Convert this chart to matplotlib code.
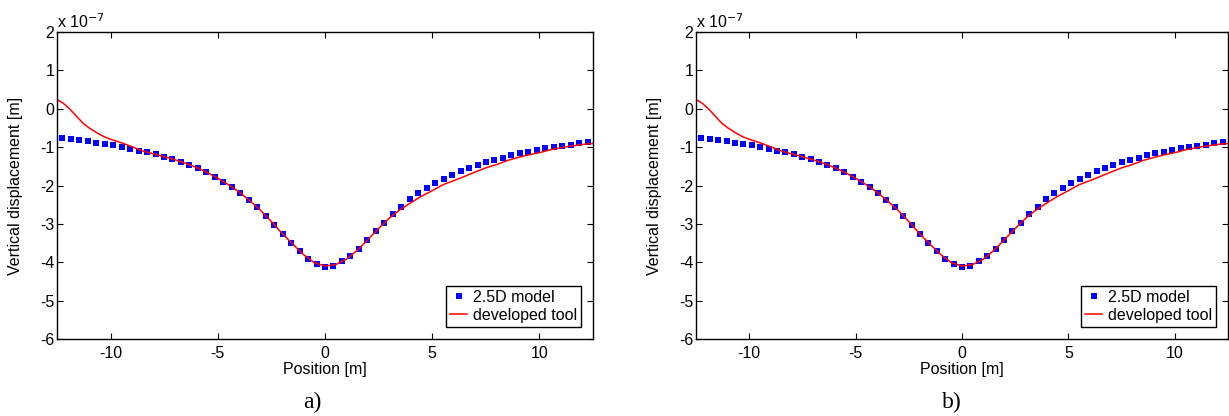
import numpy as np
import matplotlib
matplotlib.use("Agg")
import matplotlib.pyplot as plt

plt.rcParams['font.family'] = ['Liberation Sans', 'DejaVu Sans']
plt.rcParams['font.size'] = 11.5

# 2.5D model, evenly spaced receivers along the surface (values in 1e-7 m)
model_x = np.linspace(-12.25, 12.25, 63)
model_uz = [-0.77, -0.795, -0.82, -0.847, -0.882, -0.917, -0.95, -1.003, -1.047, -1.09,
            -1.14, -1.19, -1.255, -1.315, -1.385, -1.463, -1.55, -1.654, -1.768, -1.898,
            -2.036, -2.193, -2.367, -2.565, -2.792, -3.026, -3.27, -3.495, -3.71, -3.911,
            -4.033, -4.111, -4.085, -3.98, -3.833, -3.643, -3.417, -3.182, -2.966, -2.74,
            -2.549, -2.36, -2.2, -2.06, -1.932, -1.82, -1.715, -1.62, -1.533, -1.455,
            -1.395, -1.325, -1.273, -1.21, -1.16, -1.116, -1.073, -1.03, -1.003, -0.96,
            -0.934, -0.898, -0.873]

# developed tool (values in 1e-7 m)
tool_x = [-12.5, -12.2, -11.9, -11.6, -11.3, -11.0, -10.6, -10.3, -10.0, -9.5,
          -9.0, -8.5, -8.0, -7.5, -7.0, -6.5, -6.0, -5.5, -5.0, -4.5,
          -4.0, -3.5, -3.0, -2.5, -2.0, -1.5, -1.0, -0.5, 0.0, 0.5,
          1.0, 1.5, 2.0, 2.5, 3.0, 3.5, 4.0, 4.5, 5.0, 5.5,
          6.0, 6.5, 7.0, 7.5, 8.0, 8.5, 9.0, 9.5, 10.0, 10.5,
          11.0, 11.5, 12.0, 12.5]
tool_uz = [0.24, 0.14, -0.01, -0.19, -0.37, -0.50, -0.64, -0.73, -0.795, -0.885,
           -0.99, -1.10, -1.175, -1.25, -1.33, -1.42, -1.53, -1.66, -1.81, -1.98,
           -2.17, -2.40, -2.65, -2.94, -3.25, -3.53, -3.80, -4.01, -4.10, -4.06,
           -3.92, -3.69, -3.41, -3.12, -2.85, -2.63, -2.45, -2.28, -2.135, -1.98,
           -1.875, -1.765, -1.65, -1.54, -1.455, -1.35, -1.27, -1.2, -1.145, -1.07,
           -1.015, -0.97, -0.93, -0.905]

x_ticks = [-10, -5, 0, 5, 10]
y_ticks = [-6, -5, -4, -3, -2, -1, 0, 1, 2]
panels = ['a)', 'b)']

W, H = 1229, 416
fig = plt.figure(figsize=(W / 100, H / 100), dpi=100)

# axes boxes in pixels: left, top, right, bottom
boxes = [(57, 32, 593, 339), (696, 32, 1228, 339)]
label_x = [312, 952]

for (l, t, r, b), name, lx in zip(boxes, panels, label_x):
    ax = fig.add_axes([l / W, 1 - b / H, (r - l) / W, (b - t) / H])
    ax.plot(model_x, model_uz, 's', color='#0000ff', markersize=4,
            markeredgewidth=0, label='2.5D model')
    ax.plot(tool_x, tool_uz, '-', color='#ff0000', linewidth=1.1,
            label='developed tool')
    ax.set_xlim(-12.5, 12.5)
    ax.set_ylim(-6, 2)
    ax.set_xticks(x_ticks)
    ax.set_yticks(y_ticks)
    ax.set_xticklabels([str(v) for v in x_ticks])
    ax.set_yticklabels([str(v) for v in y_ticks])
    ax.tick_params(direction='in', length=4, width=0.8, top=True, right=True)
    ax.tick_params(axis='y', pad=2)
    ax.tick_params(axis='x', pad=5)
    for sp in ax.spines.values():
        sp.set_linewidth(1.0)
    ax.set_xlabel('Position [m]', labelpad=1)
    ax.set_ylabel('Vertical displacement [m]', labelpad=12)
    ax.text(0, 1.002, r'x 10$^{-7}$', transform=ax.transAxes, ha='left', va='bottom')
    leg = ax.legend(loc='lower right', frameon=True, fancybox=False, framealpha=1,
                    edgecolor='black', handlelength=1.1, handletextpad=0.35,
                    borderpad=0.25, labelspacing=0.2, borderaxespad=0.75,
                    numpoints=1)
    leg.get_frame().set_linewidth(1.0)
    fig.text(lx / W, 1 - 408 / H, name, ha='center', va='baseline',
             family='Liberation Serif', fontsize=17)

fig.savefig('out.png', dpi=100)
